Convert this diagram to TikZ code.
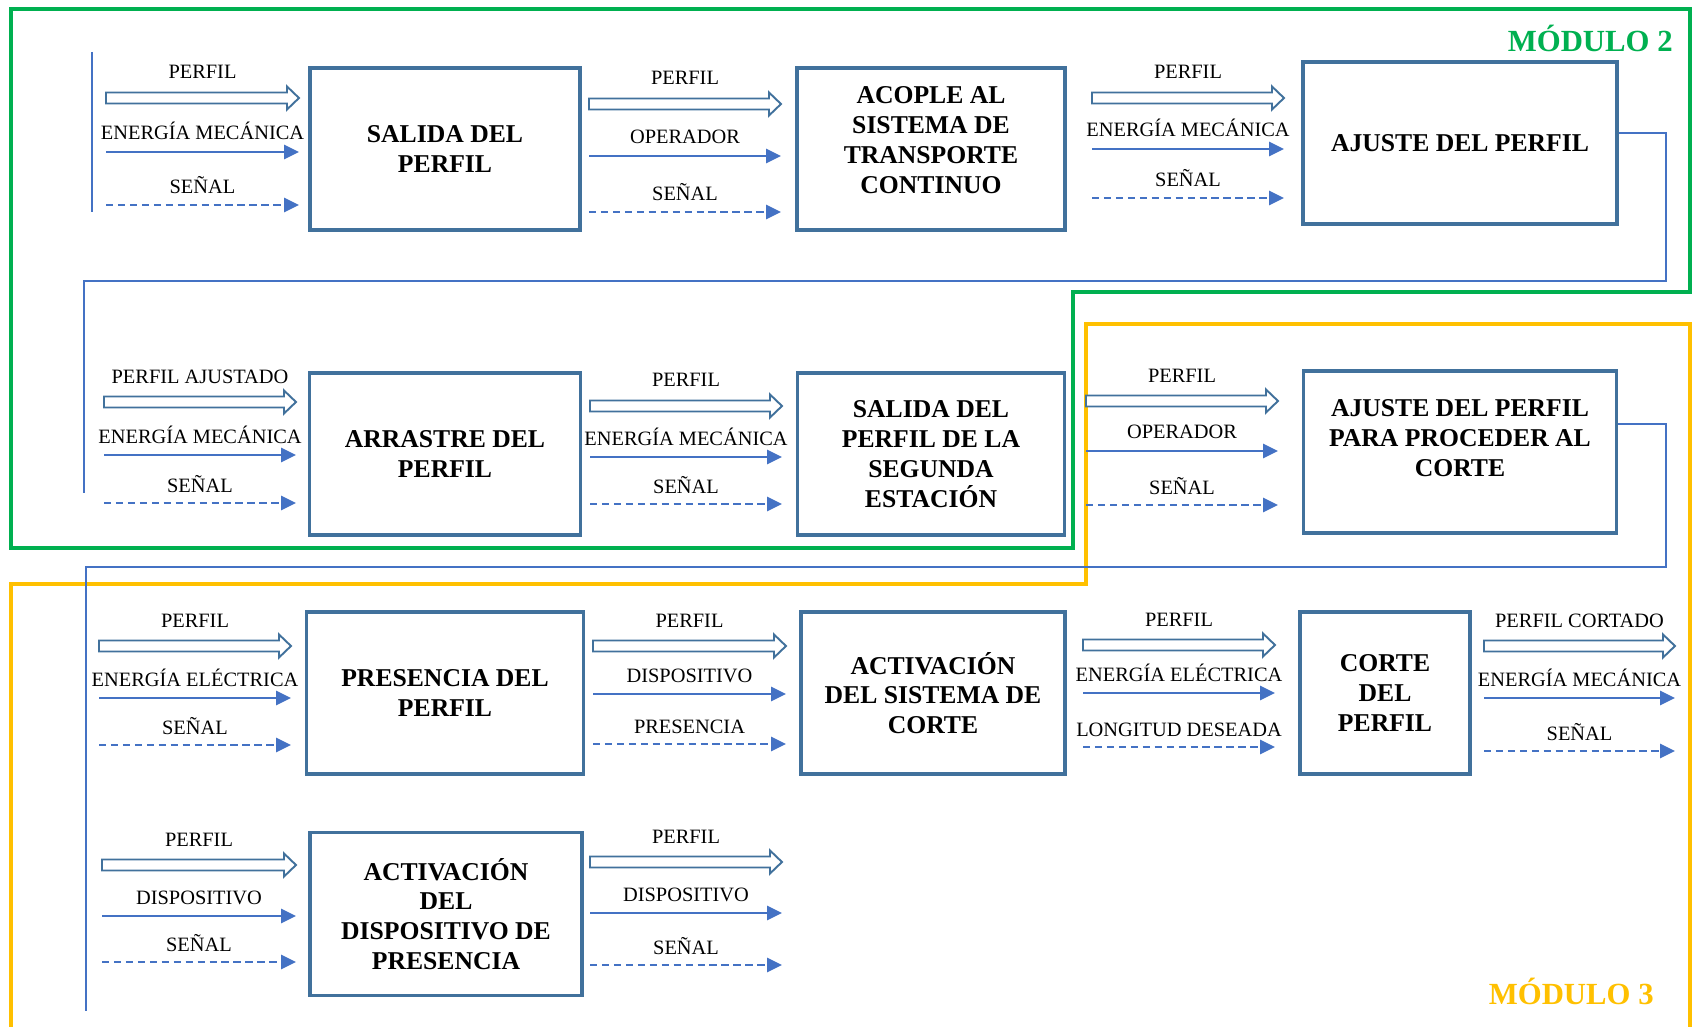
\documentclass[tikz,border=0pt]{standalone}
\usepackage{fontspec}
\setmainfont{Liberation Serif}
\usetikzlibrary{arrows.meta,calc}

\definecolor{azul}{RGB}{68,114,196}
\definecolor{borde}{RGB}{65,113,156}
\definecolor{verde}{RGB}{0,176,80}
\definecolor{amarillo}{RGB}{255,192,0}

\newlength\upx
\setlength\upx{0.02cm}

% tres flujos: #1,#2 inicio/fin en x; #3,#4,#5 alturas; #6,#7,#8 textos
\newcommand{\flujos}[8]{%
  \coordinate (h1) at (#1,#3); \coordinate (h2) at (#2,#3);
  \coordinate (s1) at (#1,#4); \coordinate (s2) at (#2,#4);
  \coordinate (d1) at (#1,#5); \coordinate (d2) at (#2,#5);
  \draw[hueco] ($(h1)+(0,-5.5)$) -- ($(h2)+(-12,-5.5)$) -- ($(h2)+(-12,-11.5)$) -- (h2)
    -- ($(h2)+(-12,11.5)$) -- ($(h2)+(-12,5.5)$) -- ($(h1)+(0,5.5)$) -- cycle;
  \draw[flecha] (s1) -- (s2);
  \draw[senal] (d1) -- (d2);
  \node[etiqueta] (e1) at ($(h1)!0.5!(h2)+(0,-19)$) {#6};
  \node[etiqueta] (e2) at ($(s1)!0.5!(s2)+(0,-12)$) {#7};
  \node[etiqueta] (e3) at ($(d1)!0.5!(d2)+(0,-11)$) {#8};
}

\begin{document}
\begin{tikzpicture}[x=0.02cm, y=-0.02cm,
    bloque/.style={draw=borde, line width=1.9pt, fill=white, align=center,
      minimum height=162\upx, font=\fontsize{14.6}{17}\selectfont\bfseries},
    texto/.style={align=center, font=\fontsize{14.6}{17}\selectfont\bfseries},
    etiqueta/.style={inner sep=0pt, anchor=base, font=\fontsize{11.6}{13}\selectfont},
    hueco/.style={draw=borde, line width=1.1pt, fill=white},
    flecha/.style={draw=azul, line width=1.3pt, -{Triangle[length=8.5pt,width=8pt]}},
    senal/.style={flecha, dash pattern=on 4.2pt off 2.6pt},
    linea/.style={draw=azul, line width=1.2pt},
    modulo/.style={inner sep=0pt, anchor=east, font=\fontsize{17.5}{20}\selectfont\bfseries}]
  \useasboundingbox (0,0) rectangle (1695,1027);

  % modulos
  \draw[verde, line width=1.8pt] (11,9) -- (1690,9) -- (1690,292) -- (1073,292)
    -- (1073,548) -- (11,548) -- cycle;
  \draw[amarillo, line width=1.8pt] (11,1035) -- (11,584) -- (1086,584) -- (1086,324)
    -- (1690,324) -- (1690,1035);
  \node[modulo, text=verde] (m2) at (1673,38) {MÓDULO 2};
  \node[modulo, text=amarillo] (m3) at (1654,991) {MÓDULO 3};

  % bloques
  \node[bloque, minimum width=270\upx] (b1) at (445,149) {SALIDA DEL\\PERFIL};
  \node[bloque, minimum width=268\upx] (b2) at (931,149) {};
  \node[texto] (t2) at (931,140) {ACOPLE AL\\SISTEMA DE\\TRANSPORTE\\CONTINUO};
  \node[bloque, minimum width=314\upx] (b3) at (1460,143) {AJUSTE DEL PERFIL};
  \node[bloque, minimum width=271\upx] (b4) at (445,454) {ARRASTRE DEL\\PERFIL};
  \node[bloque, minimum width=267\upx] (b5) at (931,454) {SALIDA DEL\\PERFIL DE LA\\SEGUNDA\\ESTACIÓN};
  \node[bloque, minimum width=313\upx] (b6) at (1460,452) {};
  \node[texto] (t6) at (1460,438) {AJUSTE DEL PERFIL\\PARA PROCEDER AL\\CORTE};
  \node[bloque, minimum width=277\upx] (b7) at (445,693) {PRESENCIA DEL\\PERFIL};
  \node[bloque, minimum width=264\upx] (b8) at (933,693) {ACTIVACIÓN\\DEL SISTEMA DE\\CORTE};
  \node[bloque, minimum width=170\upx] (b9) at (1385,693) {CORTE\\DEL\\PERFIL};
  \node[bloque, minimum width=272\upx, minimum height=163\upx] (b10) at (446,914)
    {ACTIVACIÓN\\DEL\\DISPOSITIVO DE\\PRESENCIA};

  % enlaces entre filas
  \draw[linea] (92,52) -- (92,212);
  \draw[linea] ($(b3.east)+(0,-10)$) -| (1666,281) -| (84,493);
  \draw[linea] ($(b6.east)+(0,-28)$) -| (1666,567) -| (86,1011);

  % flujos
  \flujos{106}{299}{98}{152}{205}{PERFIL}{ENERGÍA MECÁNICA}{SEÑAL}
  \flujos{589}{781}{104}{156}{212}{PERFIL}{OPERADOR}{SEÑAL}
  \flujos{1092}{1284}{98}{149}{198}{PERFIL}{ENERGÍA MECÁNICA}{SEÑAL}
  \flujos{104}{296}{402}{455}{503}{PERFIL AJUSTADO}{ENERGÍA MECÁNICA}{SEÑAL}
  \flujos{590}{782}{406}{457}{504}{PERFIL}{ENERGÍA MECÁNICA}{SEÑAL}
  \flujos{1086}{1278}{401}{451}{505}{PERFIL}{OPERADOR}{SEÑAL}
  \flujos{99}{291}{646}{698}{745}{PERFIL}{ENERGÍA ELÉCTRICA}{SEÑAL}
  \flujos{593}{786}{646}{694}{744}{PERFIL}{DISPOSITIVO}{PRESENCIA}
  \flujos{1083}{1275}{645}{693}{747}{PERFIL}{ENERGÍA ELÉCTRICA}{LONGITUD DESEADA}
  \flujos{1484}{1675}{646}{698}{751}{PERFIL CORTADO}{ENERGÍA MECÁNICA}{SEÑAL}
  \flujos{102}{296}{865}{916}{962}{PERFIL}{DISPOSITIVO}{SEÑAL}
  \flujos{590}{782}{862}{913}{965}{PERFIL}{DISPOSITIVO}{SEÑAL}
\end{tikzpicture}
\end{document}
